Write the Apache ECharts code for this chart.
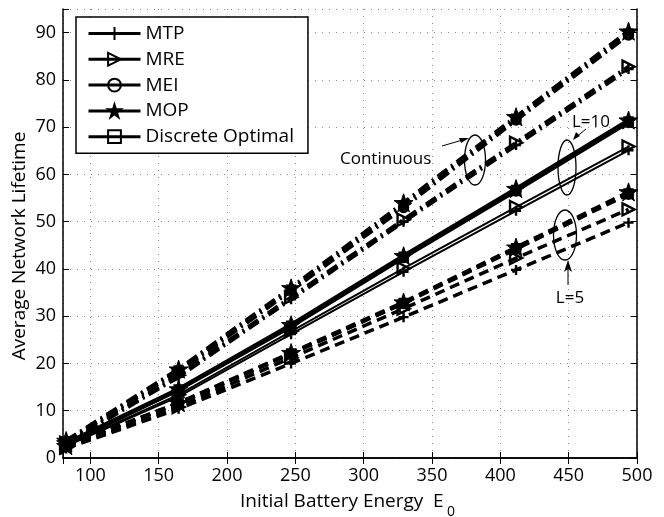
<!DOCTYPE html>
<html><head><meta charset="utf-8">
<script src="https://cdn.jsdelivr.net/npm/echarts@6/dist/echarts.min.js"></script>
<style>html,body{margin:0;padding:0;background:#fff}#c{width:664px;height:517px}</style>
</head><body><div id="c"></div>
<script>
// x values (initial battery energy)
const energy = [82.3, 164.6, 246.9, 329.2, 411.5, 493.8];
const algorithms = ['MTP', 'MRE', 'MEI', 'MOP', 'Discrete Optimal'];

// Continuous (dash-dot)
const MTP_cont = [3.0, 17.2, 33.6, 50.0, 66.2, 82.3];
const MRE_cont = [3.2, 17.5, 34.0, 50.4, 66.7, 82.8];
const MEI_cont = [3.5, 18.3, 35.4, 53.0, 71.5, 89.5];
const MOP_cont = [3.7, 18.8, 36.0, 54.0, 72.2, 90.3];
const DO_cont  = [3.5, 18.5, 35.6, 53.4, 71.8, 89.8];

// L=10 (solid)
const MTP_10 = [2.5, 13.0, 26.2, 39.4, 52.3, 65.1];
const MRE_10 = [2.6, 13.4, 26.8, 40.1, 53.1, 65.9];
const MEI_10 = [3.0, 14.4, 27.8, 42.4, 56.5, 71.0];
const MOP_10 = [3.2, 14.6, 28.2, 42.8, 57.0, 71.5];
const DO_10  = [3.0, 14.5, 28.0, 42.6, 56.7, 71.2];

// L=5 (dashed)
const MTP_5 = [2.0, 10.4, 20.0, 29.8, 39.8, 49.8];
const MRE_5 = [2.2, 10.8, 21.2, 31.6, 42.3, 52.6];
const MEI_5 = [2.5, 11.5, 22.0, 32.7, 44.2, 55.8];
const MOP_5 = [2.6, 11.7, 22.3, 33.0, 44.6, 56.3];
const DO_5  = [2.5, 11.6, 22.1, 32.8, 44.4, 56.0];

const FONT = 'Open Sans';
const STAR = 'path://M50,0 L61.8,36.2 L100,36.2 L69.1,58.8 L80.9,95.1 L50,72.7 L19.1,95.1 L30.9,58.8 L0,36.2 L38.2,36.2 Z';
const PLUS = 'path://M5,0 L5,10 M0,5 L10,5';
const TRI = 'path://M0,0 L10,5 L0,10 Z';

const markers = {
  'MTP': {symbol: PLUS, symbolSize: 10, itemStyle: {color: 'none', borderColor: '#000', borderWidth: 2.4}},
  'MRE': {symbol: TRI, symbolSize: 12, itemStyle: {color: 'none', borderColor: '#000', borderWidth: 2.4}},
  'MEI': {symbol: 'circle', symbolSize: 9, itemStyle: {color: 'none', borderColor: '#000', borderWidth: 2.4}},
  'MOP': {symbol: STAR, symbolSize: 19, itemStyle: {color: '#000', borderColor: '#000', borderWidth: 1}},
  'Discrete Optimal': {symbol: 'rect', symbolSize: 8, itemStyle: {color: 'none', borderColor: '#000', borderWidth: 2.4}}
};

function mk(name, vals, lineType, width) {
  const m = markers[name];
  return {
    name: name, type: 'line',
    data: energy.map((e, i) => [e, vals[i]]),
    symbol: m.symbol, symbolSize: m.symbolSize, symbolKeepAspect: true,
    itemStyle: m.itemStyle,
    lineStyle: {color: '#000', width: width, type: lineType},
    showAllSymbol: true, animation: false, z: 3
  };
}
const DASHDOT = [12, 5, 2, 5];
const DASH = [10, 6];
const series = [
  mk('MTP', MTP_10, 'solid', 2),
  mk('MRE', MRE_10, 'solid', 2),
  mk('MEI', MEI_10, 'solid', 3.8),
  mk('MOP', MOP_10, 'solid', 3.8),
  mk('Discrete Optimal', DO_10, 'solid', 3.8),
  mk('MTP', MTP_cont, DASHDOT, 4),
  mk('MRE', MRE_cont, DASHDOT, 4),
  mk('MEI', MEI_cont, DASHDOT, 4),
  mk('MOP', MOP_cont, DASHDOT, 4),
  mk('Discrete Optimal', DO_cont, DASHDOT, 4),
  mk('MTP', MTP_5, DASH, 3.5),
  mk('MRE', MRE_5, DASH, 3.5),
  mk('MEI', MEI_5, DASH, 3.5),
  mk('MOP', MOP_5, DASH, 3.5),
  mk('Discrete Optimal', DO_5, DASH, 3.5)
];

const gridLine = {show: true, lineStyle: {color: '#888', width: 1, type: [1, 6]}};
const axLine = {show: true, lineStyle: {color: '#000', width: 1.5}};
const tick = {show: true, inside: true, length: 6, lineStyle: {color: '#000', width: 1}};

const chart = echarts.init(document.getElementById('c'), null, {renderer: 'canvas'});
chart.setOption({
  animation: false,
  textStyle: {fontFamily: FONT},
  grid: {left: 63, right: 27, top: 9, bottom: 59, containLabel: false},
  xAxis: [{
    type: 'value', min: 80, max: 500, splitNumber: 8,
    axisLine: axLine, axisTick: tick, splitLine: gridLine,
    axisLabel: {color: '#000', fontSize: 18, fontFamily: FONT, margin: 9,
      formatter: v => (v % 50 === 0 ? String(v) : '')}
  }, {
    type: 'value', min: 80, max: 500, splitNumber: 8, position: 'top',
    axisLine: axLine, axisTick: tick, splitLine: {show: false}, axisLabel: {show: false}
  }],
  yAxis: [{
    type: 'value', min: 0, max: 95, interval: 10,
    axisLine: axLine, axisTick: tick, splitLine: gridLine,
    axisLabel: {color: '#000', fontSize: 18, fontFamily: FONT, margin: 7,
      formatter: v => (v % 10 === 0 ? String(v) : '')}
  }, {
    type: 'value', min: 0, max: 95, interval: 10, position: 'right',
    axisLine: axLine, axisTick: tick, splitLine: {show: false}, axisLabel: {show: false}
  }],
  legend: {
    orient: 'vertical', left: 76, top: 17,
    data: algorithms,
    itemWidth: 52, itemHeight: 16, itemGap: 6.8,
    padding: [7, 14, 7, 11],
    borderColor: '#000', borderWidth: 1.5, backgroundColor: '#fff',
    textStyle: {color: '#000', fontSize: 19, fontFamily: FONT, lineHeight: 16},
    lineStyle: {type: 'solid', width: 3, color: '#000'},
    selectedMode: false
  },
  series: series,
  graphic: [
    {type: 'text', x: 240, y: 502, style: {text: 'Initial Battery Energy', font: '19px "Open Sans"', fill: '#000', align: 'left', verticalAlign: 'middle'}},
    {type: 'text', x: 433, y: 502, style: {text: 'E', font: '19px "Open Sans"', fill: '#000', align: 'left', verticalAlign: 'middle'}},
    {type: 'text', x: 447, y: 512, style: {text: '0', font: '14px "Open Sans"', fill: '#000', align: 'left', verticalAlign: 'middle'}},
    {type: 'text', x: 20, y: 246, rotation: Math.PI / 2, style: {text: 'Average Network Lifetime', font: '19px "Open Sans"', fill: '#000', align: 'center', verticalAlign: 'middle'}},
    // annotations
    {type: 'ellipse', shape: {cx: 475, cy: 160, rx: 10.5, ry: 25}, style: {fill: 'none', stroke: '#000', lineWidth: 1.3}, z: 10},
    {type: 'ellipse', shape: {cx: 567, cy: 167.5, rx: 9, ry: 27.5}, style: {fill: 'none', stroke: '#000', lineWidth: 1.3}, z: 10},
    {type: 'ellipse', shape: {cx: 565, cy: 235, rx: 11.5, ry: 25}, style: {fill: 'none', stroke: '#000', lineWidth: 1.3}, z: 10},
    {type: 'line', shape: {x1: 442, y1: 146, x2: 466, y2: 139}, style: {stroke: '#000', lineWidth: 1}, z: 10},
    {type: 'polygon', shape: {points: [[469, 138], [459, 138], [461, 143]]}, style: {fill: '#000'}, z: 10},
    {type: 'line', shape: {x1: 586, y1: 129, x2: 575, y2: 138}, style: {stroke: '#000', lineWidth: 1}, z: 10},
    {type: 'polygon', shape: {points: [[573, 140], [576, 132], [580, 136]]}, style: {fill: '#000'}, z: 10},
    {type: 'line', shape: {x1: 568, y1: 285, x2: 568, y2: 264}, style: {stroke: '#000', lineWidth: 1}, z: 10},
    {type: 'polygon', shape: {points: [[568, 260], [564, 272], [568, 269], [572, 272]]}, style: {fill: '#000'}, z: 10},
    {type: 'text', x: 340, y: 159, style: {text: 'Continuous', font: '17px "Open Sans"', fill: '#000', align: 'left', verticalAlign: 'middle'}, z: 10},
    {type: 'text', x: 591, y: 122, style: {text: 'L=10', font: '17px "Open Sans"', fill: '#000', align: 'center', verticalAlign: 'middle'}, z: 10},
    {type: 'text', x: 570, y: 298, style: {text: 'L=5', font: '17px "Open Sans"', fill: '#000', align: 'center', verticalAlign: 'middle'}, z: 10}
  ]
});
</script>
</body></html>
